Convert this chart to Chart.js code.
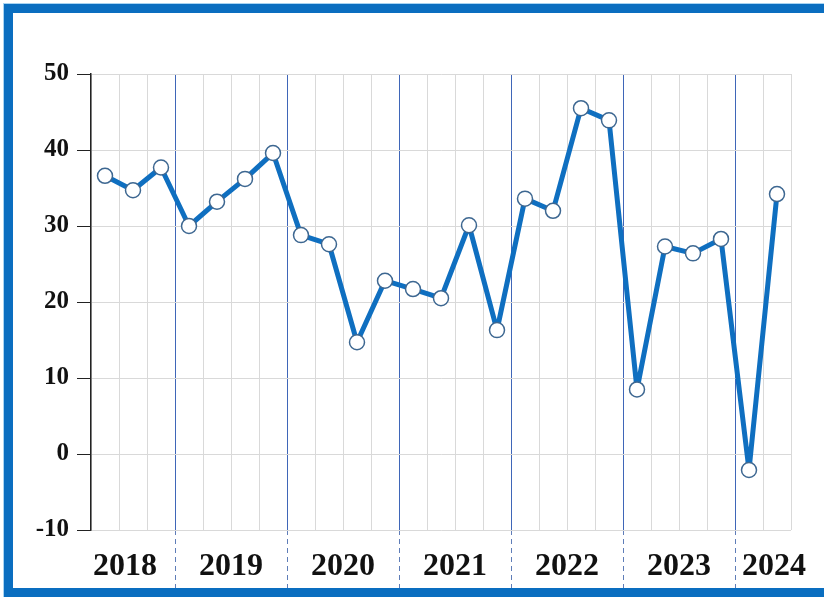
<!DOCTYPE html>
<html>
<head>
<meta charset="utf-8">
<script src="https://cdn.jsdelivr.net/npm/chart.js@4/dist/chart.umd.min.js"></script>
<style>
  html, body { margin:0; padding:0; background:#fff; }
  #wrap { position:relative; width:824px; height:597px; overflow:hidden; background:#fff; }
  #c { position:absolute; left:0; top:0; }
  #frame { position:absolute; left:4px; top:4px; width:900px; height:575px;
           border:9px solid #0a6ec0; box-shadow:0 0 0 1px #a8d4f2; pointer-events:none; }
</style>
</head>
<body>
<div id="wrap">
  <canvas id="c" width="824" height="597"></canvas>
  <div id="frame"></div>
</div>
<script>
const categories = [
  '2018 Q2','2018 Q3','2018 Q4',
  '2019 Q1','2019 Q2','2019 Q3','2019 Q4',
  '2020 Q1','2020 Q2','2020 Q3','2020 Q4',
  '2021 Q1','2021 Q2','2021 Q3','2021 Q4',
  '2022 Q1','2022 Q2','2022 Q3','2022 Q4',
  '2023 Q1','2023 Q2','2023 Q3','2023 Q4',
  '2024 Q1','2024 Q2'
];
const values = [
  36.6, 34.7, 37.7,
  30.0, 33.2, 36.2, 39.6,
  28.8, 27.6, 14.7, 22.8,
  21.7, 20.5, 30.1, 16.3,
  33.6, 32.0, 45.5, 43.9,
  8.5, 27.3, 26.4, 28.3,
  -2.1, 34.2
];
const yMin = -10, yMax = 50, yStep = 10;

const yearOf = c => c.split(' ')[0];
const isBoundary = i => i > 0 && i < categories.length && yearOf(categories[i]) !== yearOf(categories[i-1]);

// year groups derived from categories
const yearGroups = [];
categories.forEach((c, i) => {
  const y = yearOf(c);
  if (!yearGroups.length || yearGroups[yearGroups.length-1].year !== y) yearGroups.push({year:y, first:i, last:i});
  else yearGroups[yearGroups.length-1].last = i;
});

const yearLabels = {
  id:'yearLabels',
  afterDraw(chart) {
    const ctx = chart.ctx, xs = chart.scales.x;
    const step = xs.getPixelForValue(1) - xs.getPixelForValue(0);
    ctx.save();
    ctx.font = 'bold 32px "Liberation Serif", "Times New Roman", serif';
    ctx.fillStyle = '#111';
    ctx.textBaseline = 'alphabetic';
    yearGroups.forEach((g, k) => {
      const start = xs.getPixelForValue(g.first) - step/2;
      const end = xs.getPixelForValue(g.last) + step/2;
      if (k === 0) { ctx.textAlign = 'left'; ctx.fillText(g.year, start + 2, 575); }
      else if (k === yearGroups.length - 1) { ctx.textAlign = 'left'; ctx.fillText(g.year, start + 7, 575); }
      else { ctx.textAlign = 'center'; ctx.fillText(g.year, (start + end)/2, 575); }
    });
    ctx.restore();
  }
};

new Chart(document.getElementById('c'), {
  type:'line',
  data:{
    labels: categories,
    datasets:[{
      data: values,
      borderColor:'#0f6fc0',
      borderWidth:5,
      borderJoinStyle:'round',
      borderCapStyle:'round',
      tension:0,
      pointRadius:7.5,
      pointBorderWidth:1.5,
      pointBorderColor:'#3d6791',
      pointBackgroundColor:'#ffffff',
      fill:false
    }]
  },
  options:{
    responsive:false,
    animation:false,
    layout:{ padding:{ left:0, right:33, top:74, bottom:0 } },
    plugins:{ legend:{ display:false }, tooltip:{ enabled:false } },
    scales:{
      x:{
        type:'category',
        offset:true,
        grid:{
          offset:true,
          color: ctx => isBoundary(ctx.index) ? '#3f66b8' : '#d9d9d9',
          lineWidth:1,
          drawTicks:true,
          tickLength:59,
          tickColor: ctx => isBoundary(ctx.index) ? '#5f7db8' : 'rgba(0,0,0,0)',
          tickBorderDash:[5,4],
          tickWidth:1
        },
        border:{ display:false },
        ticks:{ display:false },
        afterFit: s => { s.height = 67; }
      },
      y:{
        min:yMin, max:yMax,
        ticks:{ stepSize:yStep, color:'#111', padding:8,
                font:{ family:'"Liberation Serif", "Times New Roman", serif', size:25, weight:'bold' } },
        grid:{ color:'#d9d9d9', tickColor:'#222', tickLength:14, lineWidth:1 },
        border:{ color:'#222', width:1.5 },
        afterFit: s => { s.width = 91; }
      }
    }
  },
  plugins:[yearLabels]
});
</script>
</body>
</html>
